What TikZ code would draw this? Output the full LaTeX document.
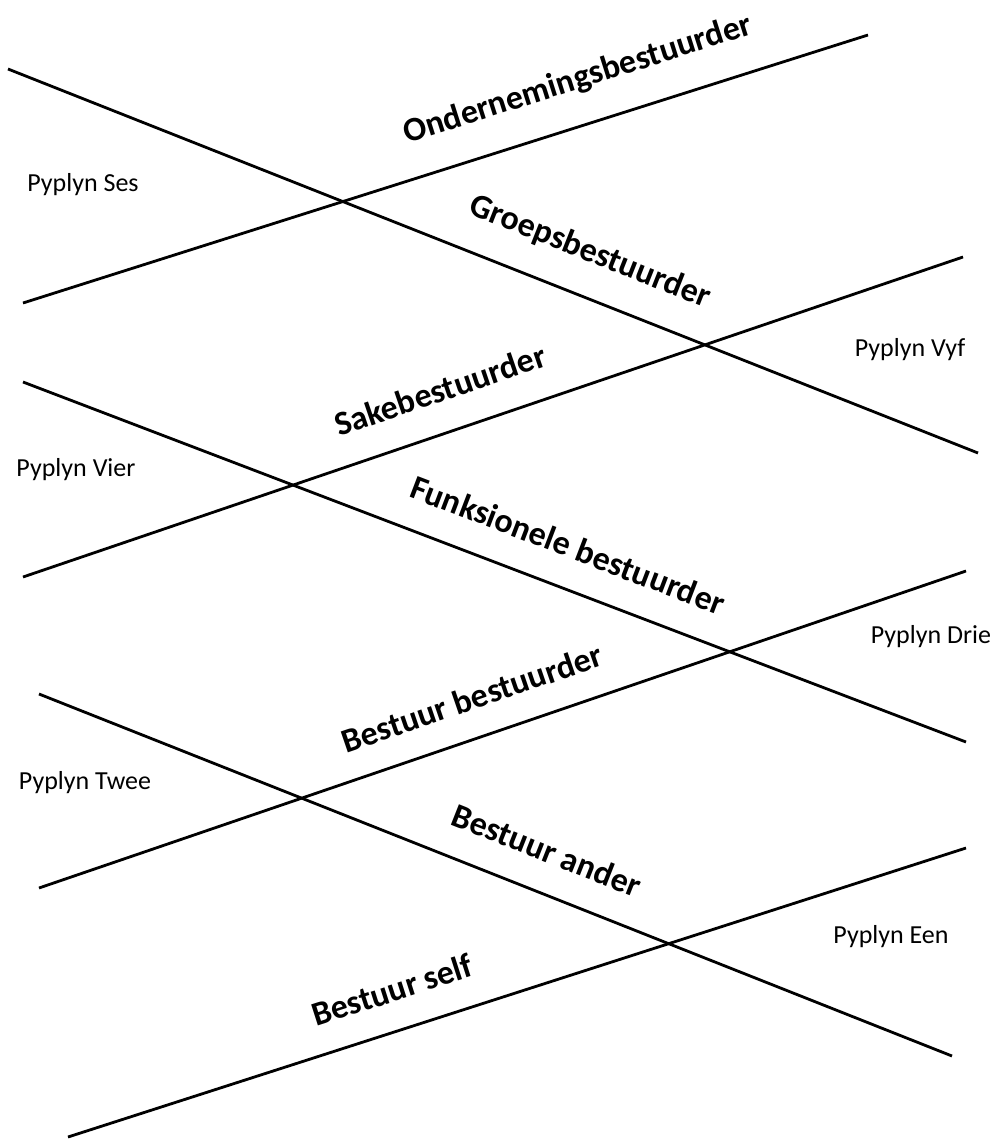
\documentclass[tikz,border=0pt]{standalone}
\usepackage{fontspec}
\setmainfont{Carlito}
\tikzset{
    role-label/.style = {font=\fontsize{17}{20}\selectfont\bfseries, inner sep=0pt},
    pipe-label/.style = {font=\fontsize{13}{15}\selectfont, inner sep=0pt},
    pipe-line/.style = {draw=black, line width=1.4pt},
}

\begin{document}
\begin{tikzpicture}[x=0.5pt, y=-0.5pt]
\useasboundingbox (0,0) rectangle (1001,1141);
% rising lines
\coordinate (up1-start) at (23,303);  \coordinate (up1-end) at (868,35);
\coordinate (up2-start) at (23,577);  \coordinate (up2-end) at (963,257);
\coordinate (up3-start) at (39,888);  \coordinate (up3-end) at (966,571);
\coordinate (up4-start) at (68,1137); \coordinate (up4-end) at (966,848);
% falling lines
\coordinate (down1-start) at (8,69);   \coordinate (down1-end) at (978,453);
\coordinate (down2-start) at (23,382); \coordinate (down2-end) at (966,742);
\coordinate (down3-start) at (39,694); \coordinate (down3-end) at (952,1056);

\draw[pipe-line] (up1-start) -- (up1-end);
\draw[pipe-line] (up2-start) -- (up2-end);
\draw[pipe-line] (up3-start) -- (up3-end);
\draw[pipe-line] (up4-start) -- (up4-end);
\draw[pipe-line] (down1-start) -- (down1-end);
\draw[pipe-line] (down2-start) -- (down2-end);
\draw[pipe-line] (down3-start) -- (down3-end);

% role labels along the lines
\node[role-label, rotate=17.6] (onderneming) at (578,80) {Ondernemingsbestuurder};
\node[role-label, rotate=-21.6] (groep) at (590,252) {Groepsbestuurder};
\node[role-label, rotate=18.8] (sake) at (440,390) {Sakebestuurder};
\node[role-label, rotate=-20.9] (funksioneel) at (568,545) {Funksionele bestuurder};
\node[role-label, rotate=18.9] (bestuur-bestuurder) at (472,698) {Bestuur bestuurder};
\node[role-label, rotate=-21.6] (bestuur-ander) at (547,850) {Bestuur ander};
\node[role-label, rotate=17.8] (bestuur-self) at (392,990) {Bestuur self};

% pipelines
\node[pipe-label] (ses) at (83,185) {Pyplyn Ses};
\node[pipe-label] (vyf) at (910,350) {Pyplyn Vyf};
\node[pipe-label] (vier) at (76,470) {Pyplyn Vier};
\node[pipe-label] (drie) at (931,637) {Pyplyn Drie};
\node[pipe-label] (twee) at (85,783) {Pyplyn Twee};
\node[pipe-label] (een) at (891,937) {Pyplyn Een};
\end{tikzpicture}
\end{document}
